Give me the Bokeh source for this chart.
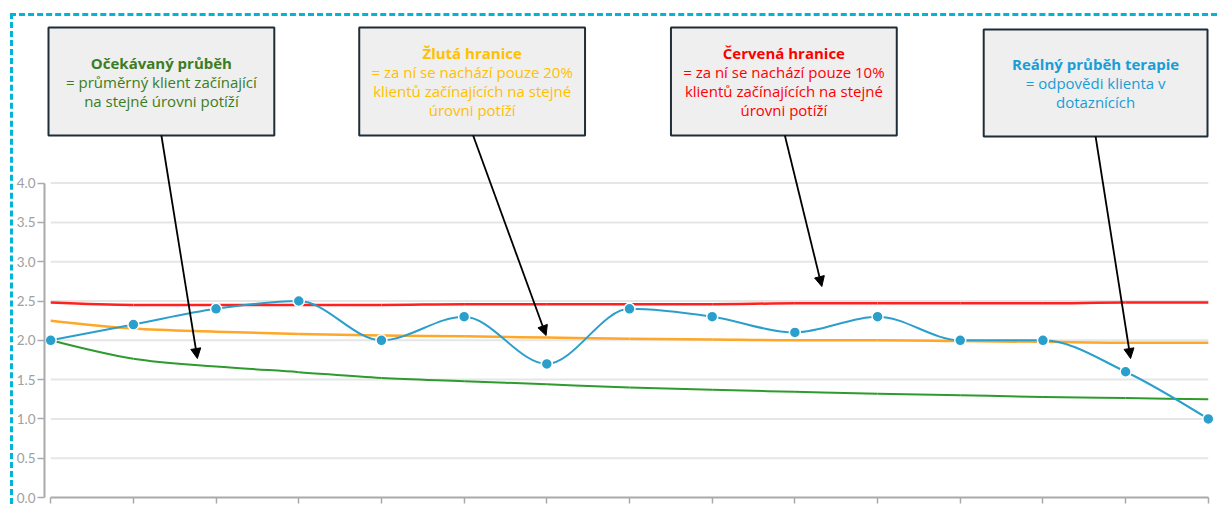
import numpy as np
from bokeh.plotting import figure
from bokeh.models import (Range1d, FixedTicker, BoxAnnotation, Label, Arrow, NormalHead,
                          PrintfTickFormatter)
from bokeh.embed import file_html
from bokeh.resources import INLINE

# ---------------- data ----------------
sessions = list(range(15))
real_values = [2.0, 2.2, 2.4, 2.5, 2.0, 2.3, 1.7, 2.4, 2.3, 2.1, 2.3, 2.0, 2.0, 1.6, 1.0]
red_limit = [2.48, 2.45, 2.45, 2.45, 2.45, 2.46, 2.46, 2.46, 2.46, 2.47, 2.47, 2.47, 2.47, 2.48, 2.48]
yellow_limit = [2.25, 2.15, 2.11, 2.08, 2.06, 2.05, 2.035, 2.02, 2.01, 2.0, 2.0, 1.99, 1.98, 1.97, 1.97]
expected = [2.0, 1.765, 1.667, 1.595, 1.52, 1.48, 1.44, 1.40, 1.37, 1.345, 1.32, 1.30, 1.28, 1.265, 1.25]
y_ticks = [0.0, 0.5, 1.0, 1.5, 2.0, 2.5, 3.0, 3.5, 4.0]
y_tick_labels = ["0.0", "0.5", "1.0", "1.5", "2.0", "2.5", "3.0", "3.5", "4.0"]

box_titles = ["Očekávaný průběh", "Žlutá hranice", "Červená hranice", "Reálný průběh terapie"]
box_texts = [
    ["= průměrný klient začínající", "na stejné úrovni potíží"],
    ["= za ní se nachází pouze 20%", "klientů začínajících na stejné", "úrovni potíží"],
    ["= za ní se nachází pouze 10%", "klientů začínajících na stejné", "úrovni potíží"],
    ["= odpovědi klienta v", "dotaznících"],
]

# ---------------- layout (page pixels) ----------------
OFF_X, OFF_Y = 13, 16          # canvas origin on the page (margin + dashed border)
BORDER = 3
W, H = 1204, 488               # requested size; the drawn canvas is BORDER px larger
W_ACT, H_ACT = W + BORDER, H + BORDER
MB_L, MB_R, MB_T, MB_B = 30, 6, 4, 10
X_PAD = 0.075
FW = W_ACT - MB_L - MB_R
FH = H_ACT - MB_T - MB_B
UY_TARGET = 78.6
Y_MAX = FH / UY_TARGET
UX = FW / (sessions[-1] - sessions[0] + 2 * X_PAD)
UY = FH / Y_MAX
FRAME_LEFT = OFF_X + MB_L
FRAME_BOTTOM = OFF_Y + H_ACT - MB_B


def dx(px):
    return (px - FRAME_LEFT) / UX + (sessions[0] - X_PAD)


def dy(py):
    return (FRAME_BOTTOM - py) / UY


def monotone_bezier(xs, ys):
    xs = np.asarray(xs, float)
    ys = np.asarray(ys, float)
    n = len(xs)
    h = np.diff(xs)
    s = np.diff(ys) / h
    t = np.zeros(n)
    for i in range(1, n - 1):
        p_ = (s[i - 1] * h[i] + s[i] * h[i - 1]) / (h[i - 1] + h[i])
        t[i] = (np.sign(s[i - 1]) + np.sign(s[i])) * min(abs(s[i - 1]), abs(s[i]), 0.5 * abs(p_))
    t[0] = (3 * s[0] - t[1]) / 2
    t[-1] = (3 * s[-1] - t[-2]) / 2
    d = h / 3
    return dict(x0=xs[:-1], y0=ys[:-1], x1=xs[1:], y1=ys[1:],
                cx0=xs[:-1] + d, cy0=ys[:-1] + d * t[:-1],
                cx1=xs[1:] - d, cy1=ys[1:] - d * t[1:])


p = figure(width=W, height=H, output_backend="svg", toolbar_location=None,
           x_range=Range1d(sessions[0] - X_PAD, sessions[-1] + X_PAD),
           y_range=Range1d(0, Y_MAX),
           min_border_left=MB_L, min_border_right=MB_R,
           min_border_top=MB_T, min_border_bottom=MB_B,
           styles={"border-left": f"{BORDER}px dashed #00b5d6",
                   "border-top": f"{BORDER}px dashed #00b5d6",
                   "margin-left": "10px", "margin-top": "13px",
                   "box-sizing": "content-box"})
p.outline_line_color = None
p.xgrid.visible = False
p.ygrid.visible = False

# grid lines (only within the data extent)
p.segment(x0=[sessions[0]] * (len(y_ticks) - 1), x1=[sessions[-1]] * (len(y_ticks) - 1),
          y0=y_ticks[1:], y1=y_ticks[1:], line_color="#e6e6e6", line_width=2)

# axes
p.yaxis.ticker = FixedTicker(ticks=y_ticks)
p.yaxis.formatter = PrintfTickFormatter(format="%.1f")
p.yaxis.major_label_overrides = {float(t): l for t, l in zip(y_ticks, y_tick_labels)}
p.yaxis.bounds = (y_ticks[0], y_ticks[-1])
p.yaxis.axis_line_color = "#aaaaaa"
p.yaxis.axis_line_width = 2
p.yaxis.major_tick_line_color = "#aaaaaa"
p.yaxis.major_tick_line_width = 1.5
p.yaxis.major_tick_out = 7
p.yaxis.major_tick_in = 0
p.yaxis.minor_tick_line_color = None
p.yaxis.major_label_standoff = 2
p.yaxis.major_label_text_font = "Lato"
p.yaxis.major_label_text_font_size = "13.5px"
p.yaxis.major_label_text_color = "#a0a0a0"

p.xaxis.ticker = FixedTicker(ticks=sessions)
p.xaxis.major_label_overrides = {s: "" for s in sessions}
p.xaxis.bounds = (sessions[0], sessions[-1])
p.xaxis.axis_line_color = "#aaaaaa"
p.xaxis.axis_line_width = 2
p.xaxis.major_tick_line_color = "#aaaaaa"
p.xaxis.major_tick_line_width = 1.5
p.xaxis.major_tick_out = 6
p.xaxis.major_tick_in = 0
p.xaxis.minor_tick_line_color = None
p.xaxis.major_label_standoff = 0

# series
p.bezier(**monotone_bezier(sessions, red_limit), line_color="#ff2020", line_width=2.5)
p.bezier(**monotone_bezier(sessions, yellow_limit), line_color="#ffa726", line_width=2.5)
p.bezier(**monotone_bezier(sessions, expected), line_color="#2e9b2e", line_width=2)
p.bezier(**monotone_bezier(sessions, real_values), line_color="#2b9fcc", line_width=2)
p.scatter(sessions, real_values, size=11, fill_color="#2b9fcc", line_color="white", line_width=1.5)

# annotation boxes
boxes_px = [(47, 273, 27, 135), (358, 584, 27, 135), (670, 896, 27, 135), (983, 1207, 29, 136)]
title_colors = ["#3b7d23", "#ffc000", "#ff0000", "#1a9dd6"]
line_h = 19
for (l, r, t, b), title, lines, col in zip(boxes_px, box_titles, box_texts, title_colors):
    p.add_layout(BoxAnnotation(left=dx(l), right=dx(r), top=dy(t), bottom=dy(b),
                               fill_color="#efefef", fill_alpha=1,
                               line_color="#1f2d36", line_alpha=1, line_width=2))
    cx = (l + r) / 2
    cy = (t + b) / 2
    n = 1 + len(lines)
    ys = [cy + (i - (n - 1) / 2) * line_h for i in range(n)]
    p.add_layout(Label(x=dx(cx), y=dy(ys[0]), text=title, text_align="center",
                       text_baseline="middle", text_font="Open Sans", text_font_size="15px",
                       text_font_style="bold", text_color=col))
    for yy, txt in zip(ys[1:], lines):
        p.add_layout(Label(x=dx(cx), y=dy(yy), text=txt, text_align="center",
                           text_baseline="middle", text_font="Open Sans", text_font_size="15px",
                           text_color=col))

# arrows
arrows_px = [((160, 135), (196, 358)), ((472, 135), (545, 335)),
             ((784, 135), (821, 286)), ((1095, 136), (1130, 358))]
for (sx, sy), (ex, ey) in arrows_px:
    p.add_layout(Arrow(end=NormalHead(size=10, fill_color="black", line_color="black", line_width=1),
                       x_start=dx(sx), y_start=dy(sy), x_end=dx(ex), y_end=dy(ey),
                       line_color="black", line_width=1.8))

open("out.html", "w").write(file_html(p, INLINE))
